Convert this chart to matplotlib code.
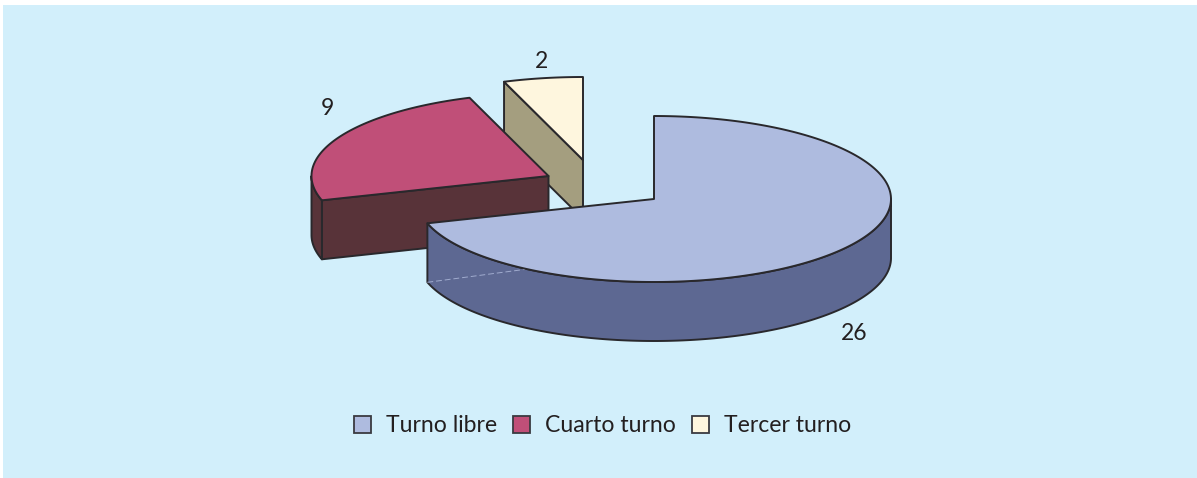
import numpy as np
import matplotlib
matplotlib.use("Agg")
import matplotlib.pyplot as plt
from matplotlib.patches import Polygon, Rectangle

# data
labels = ["Turno libre", "Cuarto turno", "Tercer turno"]
values = [26, 9, 2]

# colours
top_colors = ["#AEBBDF", "#C04F78", "#FEF6DE"]
side_colors = ["#5D6892", "#583339", "#A49E7F"]
edge = "#29282C"
panel = "#D2EFFB"

# geometry in image pixels
rx, ry, depth = 237, 83, 59
apex = [(654, 199), (548.5, 176), (583, 160)]
value_pos = [(854, 334), (327, 108), (541, 61)]


def rim(c, t0, t1, drop=0):
    # points on the ellipse, angles clockwise from 12 o'clock
    t = np.radians(np.linspace(t0, t1, 200))
    return np.column_stack([c[0] + rx * np.sin(t), c[1] - ry * np.cos(t) + drop])


def add_poly(ax, pts, color, z):
    ax.add_patch(Polygon(pts, closed=True, facecolor=color, edgecolor=edge,
                         linewidth=1.4, joinstyle="round", zorder=z))


fig = plt.figure(figsize=(11.97, 4.78), dpi=100, facecolor="white")
ax = fig.add_axes([0, 0, 1, 1])
ax.set_xlim(0, 1197)
ax.set_ylim(478, 0)
ax.axis("off")
ax.add_patch(Rectangle((3, 5), 1194, 473, facecolor=panel, edgecolor="none", zorder=0))

plt.rcParams["font.family"] = ["Lato", "DejaVu Sans"]

# cumulative angles
ends = np.cumsum(values) / np.sum(values) * 360
starts = np.concatenate([[0], ends[:-1]])

# draw back to front: third slice, second, then the big one
for i in [2, 1, 0]:
    c = apex[i]
    t0, t1 = starts[i], ends[i]
    z = 10 + (2 - i) * 3

    if i == 0:
        # outer wall, front half only
        top = rim(c, 90, t1)
        bottom = rim(c, 90, t1, depth)
        add_poly(ax, np.vstack([top, bottom[::-1]]), side_colors[i], z)
        # faint seam on the wall
        a = rim(c, t1, t1 + 1e-6, depth)[0]
        ax.plot([a[0], a[0] + 98], [a[1], a[1] - 13], color="#A0ABCE", lw=0.7,
                ls=(0, (6, 3)), zorder=z + 0.5)
    else:
        # radial face towards the viewer
        a = rim(c, t0, t0 + 1e-6)[0]
        face = [c, a, (a[0], a[1] + depth), (c[0], c[1] + depth)]
        add_poly(ax, face, side_colors[i], z)
        if t0 < 270:
            top = rim(c, t0, 270)
            bottom = rim(c, t0, 270, depth)
            add_poly(ax, np.vstack([top, bottom[::-1]]), side_colors[i], z)

    add_poly(ax, np.vstack([[c], rim(c, t0, t1)]), top_colors[i], z + 1)

for v, p in zip(values, value_pos):
    ax.text(p[0], p[1], str(v), fontsize=16.5, color="#231F20", ha="center",
            va="center", zorder=30)

handles = [Rectangle((0, 0), 1, 1, facecolor=col, edgecolor="#3A3A40", linewidth=1.3)
           for col in top_colors]
ax.legend(handles, labels, loc="center", bbox_to_anchor=(602.5 / 1197, 1 - 426 / 478),
          ncol=3, frameon=False, fontsize=16.6, labelcolor="#231F20",
          handlelength=0.74, handleheight=0.74, handletextpad=0.65,
          columnspacing=0.7, borderpad=0)

fig.savefig("out.png", dpi=100)
